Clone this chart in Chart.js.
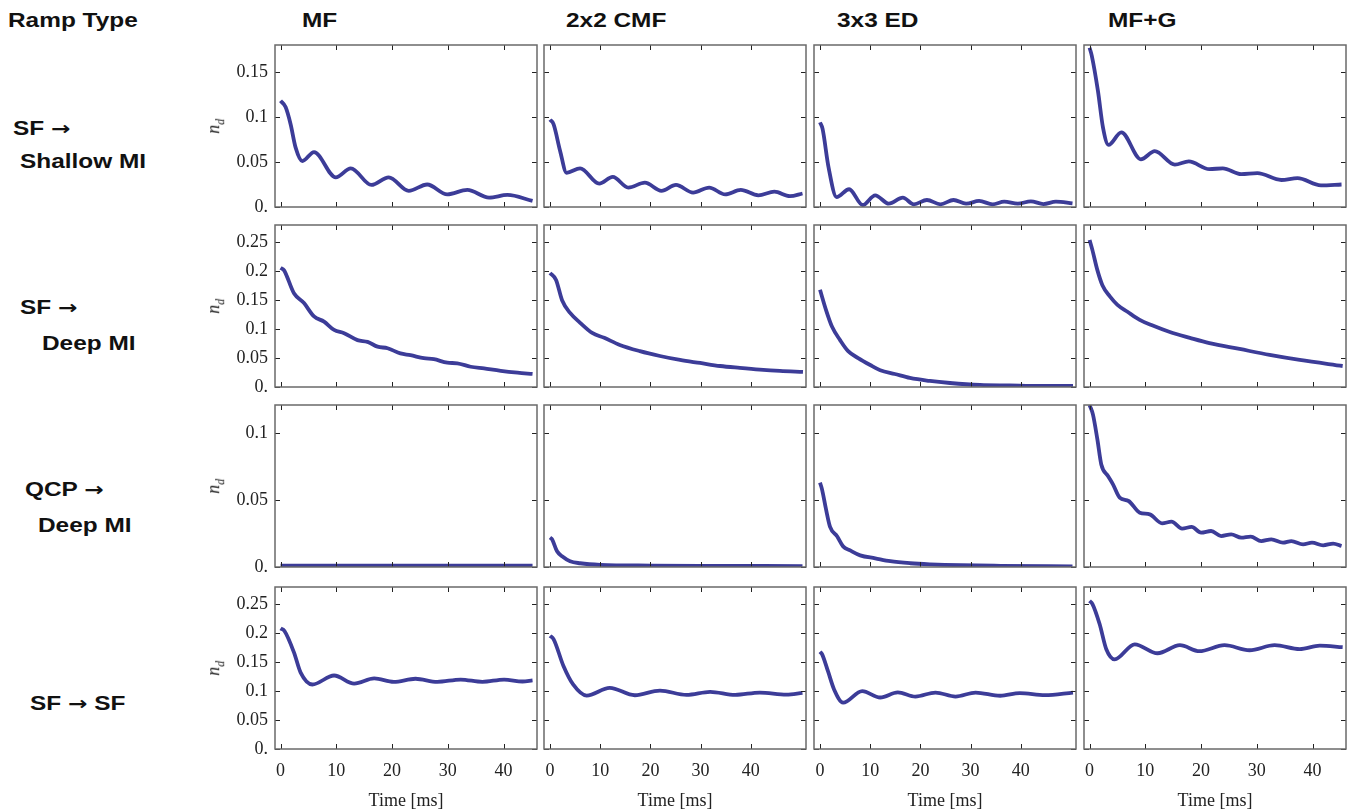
<!DOCTYPE html>
<html lang="en">
<head>
    <meta charset="UTF-8">
    <title>Ramp Type vs Method</title>
    <style>
        body {
            margin: 0;
            width: 1352px;
            height: 812px;
            background: #fff;
            position: relative;
            overflow: hidden;
        }
        canvas {
            position: absolute;
        }
        .head {
            position: absolute;
            font-family: "Liberation Sans", Arial, sans-serif;
            font-weight: bold;
            font-size: 20px;
            line-height: 24px;
            color: #111;
            white-space: nowrap;
            transform: scaleX(1.22);
            transform-origin: left center;
        }
        .head .arr {
            font-family: "DejaVu Sans", sans-serif;
            font-size: 19px;
        }
        .ylab {
            position: absolute;
            font-family: "Liberation Serif", serif;
            font-style: italic;
            font-size: 18px;
            color: #222;
            transform: rotate(-90deg);
            white-space: nowrap;
        }
        .ylab sub {
            font-size: 12px;
        }
    </style>
</head>
<body>
    <script src="https://cdn.jsdelivr.net/npm/chart.js"></script>
    <script>
        // column / row labels
        const methods = ['MF', '2x2 CMF', '3x3 ED', 'MF+G'];
        const rampTypes = [['SF \u2192', 'Shallow MI'], ['SF \u2192', 'Deep MI'], ['QCP \u2192', 'Deep MI'], ['SF \u2192 SF']];

        // ticks
        const timeTicks = [0, 10, 20, 30, 40];
        const rowTicks = [
            [0, 0.05, 0.1, 0.15],
            [0, 0.05, 0.1, 0.15, 0.2, 0.25],
            [0, 0.05, 0.1],
            [0, 0.05, 0.1, 0.15, 0.2, 0.25]
        ];
        const rowMax = [0.18, 0.28, 0.121, 0.28];
        const colMin = [-1, -1.2, -1.2, -1];
        const colMax = [46, 51, 51, 46];

        // [time ms, n_d]
        const shallowMF = [[0,0.118],[0.9,0.111],[1.8,0.092],[2.7,0.066],[3.9,0.051],[6.0,0.061],[9.9,0.033],[12.6,0.043],[16.3,0.0245],[19.4,0.033],[23.0,0.018],[26.3,0.025],[29.9,0.014],[33.5,0.019],[37.4,0.0104],[40.7,0.0134],[45.2,0.0067]];
        const shallowCMF = [[0,0.097],[0.7,0.092],[2,0.0625],[3.3,0.038],[6.0,0.043],[9.8,0.026],[12.5,0.0335],[15.6,0.0216],[18.9,0.027],[22.2,0.018],[25.1,0.0245],[28.5,0.016],[31.7,0.0216],[34.9,0.014],[38.0,0.019],[41.5,0.013],[44.7,0.017],[47.8,0.012],[50.3,0.015]];
        const shallowED = [[0,0.094],[0.5,0.087],[1.7,0.044],[3.3,0.011],[5.8,0.0197],[8.5,0.0022],[11.0,0.013],[13.7,0.0037],[16.5,0.0104],[18.7,0.003],[21.3,0.0078],[24.0,0.003],[26.6,0.0078],[29.1,0.0037],[31.7,0.0067],[34.4,0.003],[36.7,0.006],[39.4,0.0037],[42.0,0.0063],[44.5,0.0033],[47.0,0.006],[50.3,0.004]];
        const shallowMFG = [[0,0.177],[0.4,0.168],[1.5,0.129],[2.4,0.0885],[3.4,0.069],[5.7,0.083],[9.2,0.053],[11.7,0.062],[15.3,0.047],[17.8,0.0506],[21.5,0.042],[23.9,0.043],[27.2,0.0365],[30.1,0.0376],[34.4,0.030],[37.3,0.032],[41.5,0.024],[45.2,0.025]];

        const deepMF = [[0,0.206],[0.6,0.202],[2.4,0.162],[4.2,0.145],[6.0,0.122],[7.8,0.113],[9.6,0.0986],[11.4,0.093],[13.8,0.081],[15.6,0.078],[17.4,0.0697],[19.2,0.067],[21.5,0.058],[23.3,0.055],[25.7,0.0497],[27.5,0.048],[29.9,0.042],[31.7,0.041],[34.1,0.035],[36.5,0.032],[39.5,0.028],[42.5,0.0248],[45.2,0.0225]];
        const deepCMF = [[0,0.197],[1.2,0.185],[2.4,0.150],[4,0.128],[6,0.111],[8.4,0.0934],[10.8,0.085],[13.9,0.0727],[17.9,0.062],[21.9,0.0536],[25.9,0.0467],[29.9,0.0415],[33.9,0.0363],[37.8,0.033],[41.8,0.030],[45.8,0.0277],[50.4,0.026]];
        const deepED = [[0,0.168],[1.2,0.133],[2.4,0.104],[4,0.081],[5.6,0.062],[7.6,0.05],[10,0.038],[12,0.029],[14.9,0.0225],[17.9,0.0156],[21.9,0.0104],[25.9,0.0069],[31.9,0.0035],[37.8,0.0026],[43.8,0.0017],[50.4,0.0017]];
        const deepMFG = [[0,0.254],[0.5,0.237],[1.4,0.202],[2.3,0.176],[3.6,0.157],[5,0.142],[6.8,0.13],[9,0.116],[11.1,0.107],[14.4,0.095],[18,0.085],[21.5,0.076],[26.9,0.0657],[32.3,0.0554],[37.7,0.0467],[45.4,0.0363]];

        const qcpMF = [[0,0.001],[10,0.001],[20,0.001],[30,0.001],[40,0.001],[45.2,0.001]];
        const qcpCMF = [[0,0.022],[0.4,0.0207],[1.4,0.0117],[2.4,0.008],[4,0.0043],[6,0.0028],[10,0.0016],[20,0.0011],[30,0.0009],[50.3,0.0007]];
        const qcpED = [[0,0.063],[0.4,0.058],[1.2,0.043],[2,0.030],[3.4,0.023],[4.6,0.0154],[6,0.0124],[8,0.0087],[11,0.0065],[14,0.0043],[18,0.0028],[22,0.002],[28,0.0013],[36,0.0009],[50.3,0.0005]];
        const qcpMFG = [[0,0.121],[0.6,0.114],[1.4,0.0953],[2.1,0.0766],[3.3,0.068],[4.2,0.0617],[5.4,0.0518],[7,0.0493],[9,0.0406],[10.8,0.0393],[13,0.0326],[14.7,0.0339],[16.6,0.0287],[18.3,0.0299],[20,0.0257],[21.8,0.0269],[23.6,0.0231],[25.4,0.0244],[27.2,0.0219],[28.9,0.0227],[30.8,0.0194],[32.6,0.0207],[34.7,0.0182],[36.2,0.0194],[38.3,0.0169],[39.9,0.0182],[41.9,0.0162],[43.7,0.0175],[45.2,0.0157]];

        const sfMF = [[0,0.2085],[0.7,0.204],[2.4,0.167],[3.6,0.132],[5.7,0.1115],[9.6,0.127],[13.2,0.113],[16.8,0.122],[20.3,0.116],[24.2,0.1214],[28.1,0.116],[32.3,0.120],[36.2,0.116],[40.1,0.120],[43.4,0.1167],[45.2,0.1185]];
        const sfCMF = [[0,0.1957],[0.7,0.19],[2.7,0.143],[4.6,0.1115],[7.3,0.0923],[11.9,0.1057],[16.9,0.0929],[21.9,0.101],[27.2,0.0935],[31.9,0.0988],[36.9,0.0935],[41.8,0.0976],[47.1,0.094],[50.3,0.097]];
        const sfED = [[0,0.168],[0.4,0.164],[1.6,0.134],[2.8,0.103],[4.6,0.080],[8.4,0.1],[12,0.089],[15.5,0.098],[19,0.0906],[23,0.0976],[27,0.0906],[31,0.0976],[35.9,0.092],[39.8,0.0967],[44.8,0.093],[50.4,0.0976]];
        const sfMFG = [[0,0.256],[0.5,0.251],[1.8,0.216],[3,0.1725],[4.5,0.155],[8.1,0.181],[12.2,0.1655],[16.2,0.1794],[19.7,0.169],[24.2,0.1794],[28.7,0.1707],[33.2,0.1794],[37.7,0.1725],[41.3,0.1786],[45.4,0.176]];

        const panels = [
            [shallowMF, shallowCMF, shallowED, shallowMFG],
            [deepMF, deepCMF, deepED, deepMFG],
            [qcpMF, qcpCMF, qcpED, qcpMFG],
            [sfMF, sfCMF, sfED, sfMFG]
        ];

        // layout of the plot frames
        const colLeft = [275, 544, 814, 1084];
        const rowTop = [45, 225, 405, 587];
        const W = 262, H = 162;
        const L = 70, T = 4, R = 4, B = 63;

        const lineColor = '#3c3c98';
        const serif = '"Liberation Serif", "Times New Roman", serif';

        function addText(cls, html, left, top) {
            const d = document.createElement('div');
            d.className = cls;
            d.innerHTML = html;
            d.style.left = left + 'px';
            d.style.top = top + 'px';
            document.body.appendChild(d);
            return d;
        }

        addText('head', 'Ramp Type', 8, 8);
        const headLeft = [302, 566, 837, 1108];
        methods.forEach((m, c) => addText('head', m, headLeft[c], 8));

        const rampPos = [
            [[13, 116], [20, 149]],
            [[20, 295], [42, 331]],
            [[25, 477], [38, 513]],
            [[30, 691]]
        ];
        rampTypes.forEach((lines, r) => {
            lines.forEach((txt, i) => {
                const html = txt.replace('\u2192', '<span class="arr">\u2192</span>');
                addText('head', html, rampPos[r][i][0], rampPos[r][i][1]);
            });
        });

        // frame with inward ticks on all four sides
        const framePlugin = {
            id: 'frame',
            afterDraw(chart) {
                const ctx = chart.ctx;
                const a = chart.chartArea;
                const xs = chart.scales.x, ys = chart.scales.y;
                ctx.save();
                ctx.strokeStyle = '#222';
                ctx.lineWidth = 1;
                ctx.beginPath();
                xs.ticks.forEach(t => {
                    const px = Math.round(xs.getPixelForValue(t.value)) + 0.5;
                    ctx.moveTo(px, a.bottom); ctx.lineTo(px, a.bottom - 5);
                    ctx.moveTo(px, a.top); ctx.lineTo(px, a.top + 5);
                });
                ys.ticks.forEach(t => {
                    const py = Math.round(ys.getPixelForValue(t.value)) + 0.5;
                    ctx.moveTo(a.left, py); ctx.lineTo(a.left + 5, py);
                    ctx.moveTo(a.right, py); ctx.lineTo(a.right - 5, py);
                });
                ctx.stroke();
                ctx.strokeStyle = '#6a6a6a';
                ctx.lineWidth = 1.5;
                ctx.strokeRect(a.left, a.top, a.right - a.left, a.bottom - a.top);
                ctx.restore();
            }
        };

        // keep every panel's plot area the same size, labels or not
        function fixBox(s, horizontal, size) {
            if (horizontal) s.height = size; else s.width = size;
            s.paddingTop = 0;
            s.paddingBottom = 0;
            s.paddingLeft = 0;
            s.paddingRight = 0;
        }

        for (let r = 0; r < 4; r++) {
            for (let c = 0; c < 4; c++) {
                const cv = document.createElement('canvas');
                cv.width = W + L + R;
                cv.height = H + T + B;
                cv.style.left = (colLeft[c] - L) + 'px';
                cv.style.top = (rowTop[r] - T) + 'px';
                document.body.appendChild(cv);

                const pts = panels[r][c].map(p => ({ x: p[0], y: p[1] }));
                new Chart(cv.getContext('2d'), {
                    type: 'line',
                    data: {
                        datasets: [{
                            data: pts,
                            borderColor: lineColor,
                            borderWidth: 3.8,
                            pointRadius: 0,
                            cubicInterpolationMode: 'monotone',
                            fill: false
                        }]
                    },
                    options: {
                        responsive: false,
                        animation: false,
                        events: [],
                        layout: { autoPadding: false, padding: { top: T, right: R, left: 0, bottom: 0 } },
                        plugins: { legend: { display: false }, tooltip: { enabled: false } },
                        scales: {
                            x: {
                                type: 'linear',
                                min: colMin[c],
                                max: colMax[c],
                                afterBuildTicks: s => { s.ticks = timeTicks.map(v => ({ value: v })); },
                                afterFit: s => fixBox(s, true, B),
                                grid: { display: false, drawTicks: false },
                                border: { display: false },
                                ticks: {
                                    display: r === 3,
                                    padding: 11,
                                    maxRotation: 0,
                                    color: '#222',
                                    font: { family: serif, size: 18 }
                                },
                                title: {
                                    display: r === 3,
                                    text: 'Time [ms]',
                                    color: '#222',
                                    padding: 0,
                                    font: { family: serif, size: 18 }
                                }
                            },
                            y: {
                                type: 'linear',
                                min: 0,
                                max: rowMax[r],
                                afterBuildTicks: s => { s.ticks = rowTicks[r].map(v => ({ value: v })); },
                                afterFit: s => fixBox(s, false, L),
                                grid: { display: false, drawTicks: false },
                                border: { display: false },
                                ticks: {
                                    display: c === 0,
                                    padding: 7,
                                    color: '#222',
                                    font: { family: serif, size: 18 },
                                    callback: v => v === 0 ? '0.' : String(v)
                                }
                            }
                        }
                    },
                    plugins: [framePlugin]
                });
            }
            // n_d axis label
            const yl = addText('ylab', 'n<sub>d</sub>', 0, 0);
            const w = yl.offsetWidth, h = yl.offsetHeight;
            yl.style.left = (215 - w / 2) + 'px';
            yl.style.top = (rowTop[r] + H / 2 - h / 2) + 'px';
        }
    </script>
</body>
</html>
